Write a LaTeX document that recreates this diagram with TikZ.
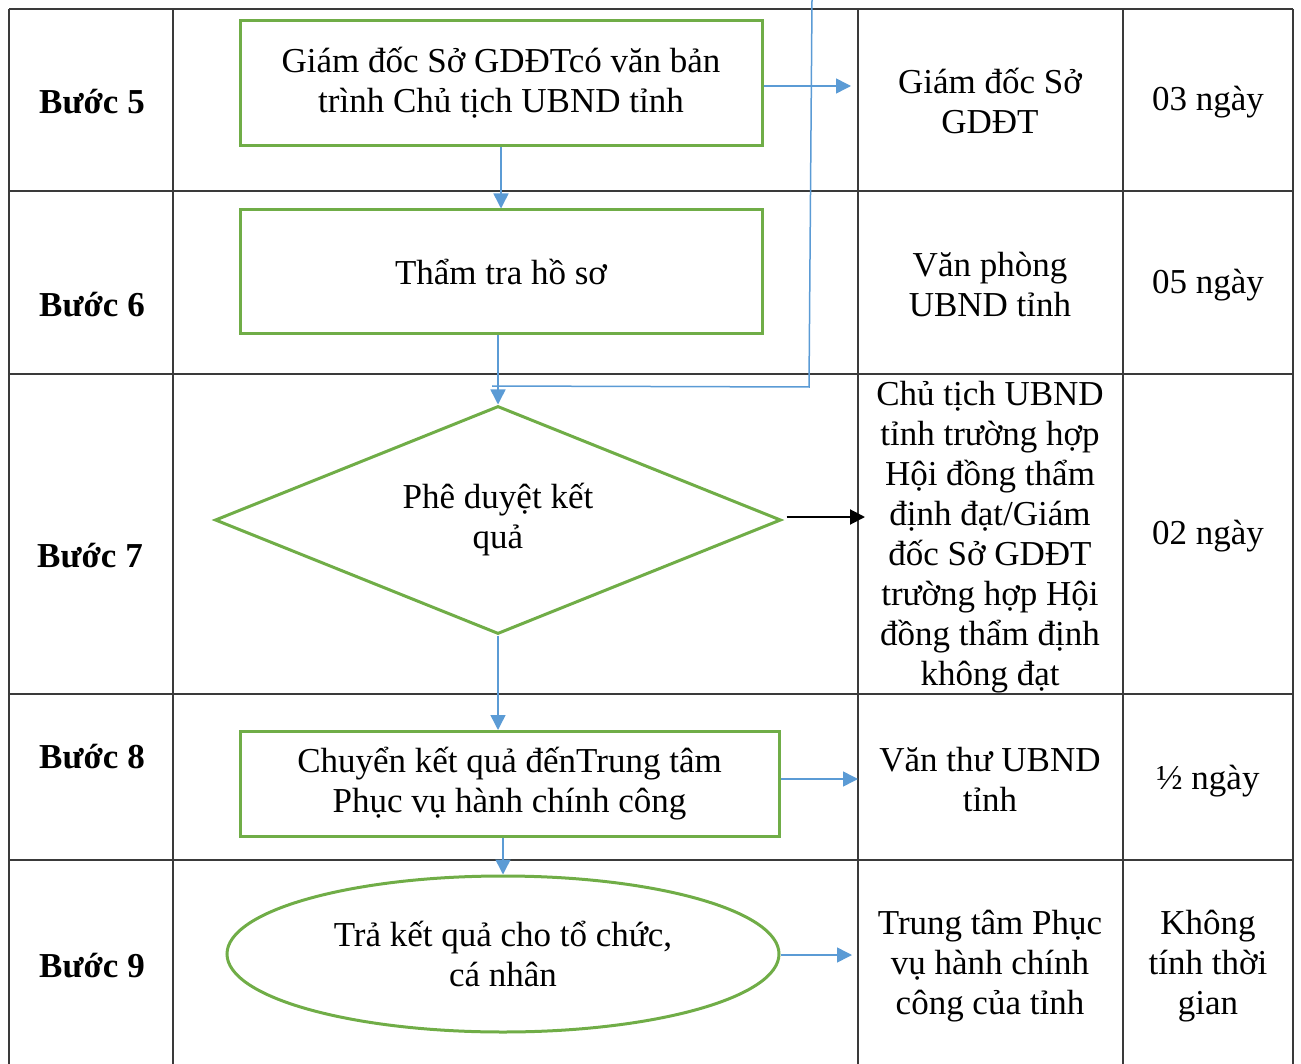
\documentclass[tikz,border=0pt]{standalone}
\usepackage{fontspec}
\setmainfont{Liberation Serif}
\usepackage{tikz}
\usetikzlibrary{shapes.geometric,arrows.meta}
\definecolor{stepgreen}{HTML}{70AD47}
\definecolor{flowblue}{HTML}{5B9BD5}
\definecolor{gridgray}{HTML}{3A3A3A}

\begin{document}
\begin{tikzpicture}[x=1pt,y=-1pt,
    every node/.style={font=\fontsize{35}{40}\selectfont,align=center,inner sep=0pt},
    grid/.style={gridgray,line width=1.6pt},
    stepbox/.style={draw=stepgreen,line width=3pt,rectangle},
    flow/.style={flowblue,line width=1.5pt,-{Triangle[length=15pt,width=15pt]}},
    blackflow/.style={black,line width=2pt,-{Triangle[length=15pt,width=15pt]}}]
      \useasboundingbox (0,0) rectangle (1301,1064);
      \draw [grid] (9,9) -- (1293,9);
      \foreach \y in {191,374,694,860}
        \draw [grid] (9,\y) -- (1293,\y);
      \foreach \x in {9,173,858,1123,1293}
        \draw [grid] (\x,9) -- (\x,1064);
      \node [font=\fontsize{35}{40}\selectfont\bfseries] (s5) at (92,102) {Bước 5};
      \node [font=\fontsize{35}{40}\selectfont\bfseries] (s6) at (92,305) {Bước 6};
      \node [font=\fontsize{35}{40}\selectfont\bfseries] (s7) at (90,556) {Bước 7};
      \node [font=\fontsize{35}{40}\selectfont\bfseries] (s8) at (92,757) {Bước 8};
      \node [font=\fontsize{35}{40}\selectfont\bfseries] (s9) at (92,966) {Bước 9};
      \node [stepbox,minimum width=522pt,minimum height=125pt] (b5) at (501,83) {Giám đốc Sở GDĐTcó văn bản\\trình Chủ tịch UBND tỉnh};
      \node [stepbox,minimum width=522pt,minimum height=124pt] (b6) at (501,272) {Thẩm tra hồ sơ};
      \node [draw=stepgreen,line width=3pt,diamond,aspect=2.5,minimum width=566pt,minimum height=228pt] (d7) at (498,520) {Phê duyệt kết\\quả};
      \node [stepbox,minimum width=539pt,minimum height=105pt] (b8) at (509.5,784) {Chuyển kết quả đếnTrung tâm\\Phục vụ hành chính công};
      \node [draw=stepgreen,line width=3pt,ellipse,minimum width=552pt,minimum height=156pt] (e9) at (503,954) {Trả kết quả cho tổ chức,\\cá nhân};
      \node (w5) at (990,101) {Giám đốc Sở\\GDĐT};
      \node (w6) at (990,285) {Văn phòng\\UBND tỉnh};
      \node (w7) at (990,537) {Chủ tịch UBND\\tỉnh trường hợp\\Hội đồng thẩm\\định đạt/Giám\\đốc Sở GDĐT\\trường hợp Hội\\đồng thẩm định\\không đạt};
      \node (w8) at (990,780) {Văn thư UBND\\tỉnh};
      \node (w9) at (990,966) {Trung tâm Phục\\vụ hành chính\\công của tỉnh};
      \node (t5) at (1208,102) {03 ngày};
      \node (t6) at (1208,285) {05 ngày};
      \node (t7) at (1208,536) {02 ngày};
      \node (t8) at (1208,781) {½ ngày};
      \node (t9) at (1208,966) {Không\\tính thời\\gian};
      \coordinate (a5) at (851,86);
      \coordinate (a7) at (865,517);
      \coordinate (a8) at (858,779);
      \coordinate (a9) at (852,955);
      \coordinate (loopin) at (812,0);
      \coordinate (loopbend) at (809,387);
      \coordinate (loopend) at (492,386);
      \draw [flow] (b5.east |- a5) -- (a5);
      \draw [flow] (b5.south) -- (b6.north);
      \draw [flow] (d7.north |- b6.south) -- (d7.north);
      \draw [blackflow] ([xshift=4pt]d7.east |- a7) -- (a7);
      \draw [flow] (d7.south) -- (d7.south |- b8.north);
      \draw [flow] (b8.east |- a8) -- (a8);
      \draw [flow] (e9.north |- b8.south) -- (e9.north);
      \draw [flow] (e9.east |- a9) -- (a9);
      \draw [flowblue,line width=1.5pt] (loopin) -- (loopbend) -- (loopend);
    \end{tikzpicture}
\end{document}
